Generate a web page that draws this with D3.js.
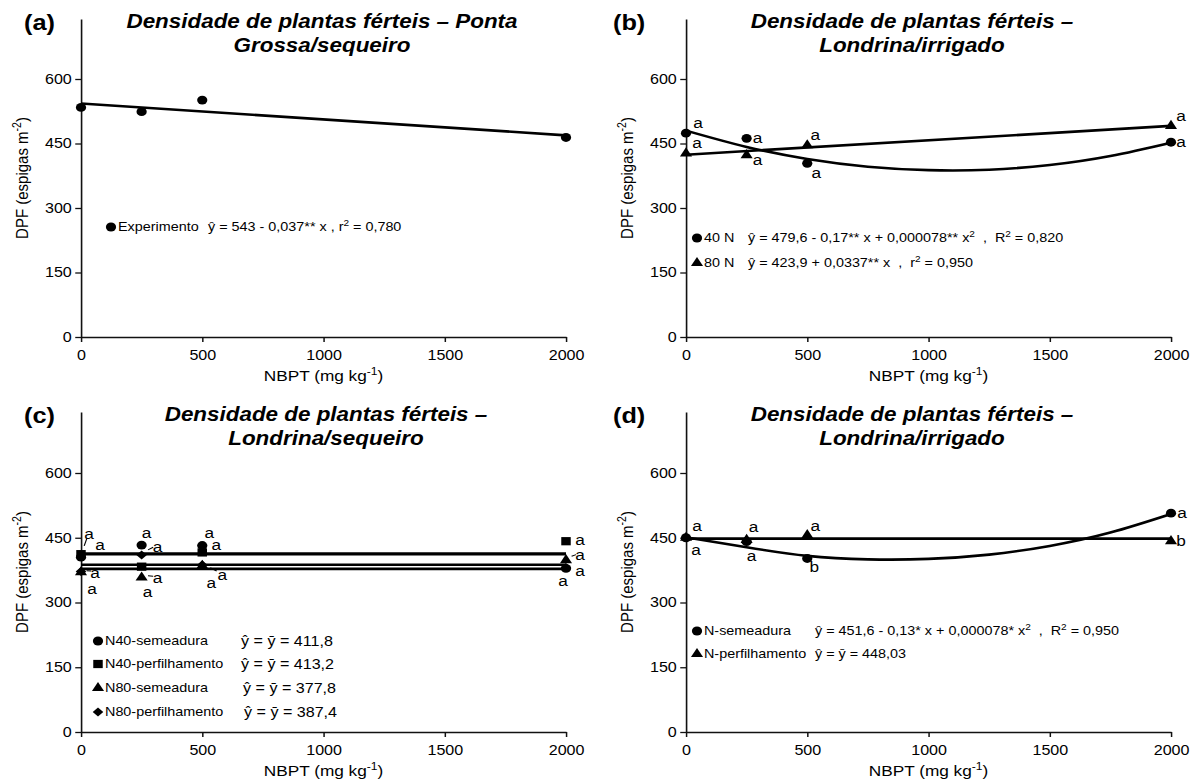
<!DOCTYPE html>
<html>
<head>
<meta charset="utf-8">
<script src="https://cdn.jsdelivr.net/npm/d3@7"></script>
<style>
  body { margin: 0; background: #fff; }
  svg { display: block; }
  text { font-family: "Liberation Sans", Arial, sans-serif; fill: #000; white-space: pre; }
</style>
</head>
<body>
<div id="chart"></div>
<script>
// Data
const doses = [0, 250, 500, 2000];
const fitX = [0, 250, 500, 750, 1000, 1250, 1500, 1750, 2000];
const lineX = [0, 2000];
const xTicks = [0, 500, 1000, 1500, 2000];
const yTicks = [0, 150, 300, 450, 600];

// (a) Ponta Grossa/sequeiro
const aExperimento = [534, 524, 551, 464];
const aExperimentoFit = [543, 469];

// (b) Londrina/irrigado
const b40N = [474, 462, 404, 453];
const b40NFit = [480, 442, 414, 396, 388, 389, 400, 421, 452];
const b40NLetters = ["a", "a", "a", "a"];
const b80N = [427, 423, 446, 491];
const b80NFit = [424, 491];
const b80NLetters = ["a", "a", "a", "a"];

// (c) Londrina/sequeiro
const cN40Sem = [405, 433, 432, 379];
const cN40Perf = [412, 383, 416, 442];
const cN80Sem = [370, 358, 385, 398];
const cN80Perf = [372, 410, 387, 381];
const cMeans = [411.8, 413.2, 377.8, 387.4];
const cLetters = ["a", "a", "a", "a"];

// (d) Londrina/irrigado
const dNSem = [450, 441, 402, 507];
const dNSemFit = [451, 428, 408, 400, 401, 411, 431, 462, 505];
const dNSemLetters = ["a", "a", "b", "a"];
const dNPerf = [450, 445, 456, 442];
const dNPerfFit = [448.03, 448.03];
const dNPerfLetters = ["a", "a", "a", "b"];

// Dimensions (the original figure is a bit stretched sideways)
const W = 1191, H = 783;
const SX = 1.15;
const fx = (v) => v / SX;
const SANS = '"Liberation Sans", Arial, sans-serif';
const SERIF = '"Liberation Serif", "Times New Roman", serif';

// letter offsets, px [dx, dy, leader]
const b40NPlace = [[12, -10], [11, 0], [9, 10], [10, 0]];
const b80NPlace = [[11, -10], [11, 5], [8, -10], [10, -9]];
const cN40SemPlace = [[8, -23, 1], [5, -12], [7, -12], [-3, 13]];
const cN40PerfPlace = [[19, -9], [6, 26], [14, -7], [14, -1]];
const cN80SemPlace = [[14, 1, 1], [16, 1, 1], [20, 10, 1], [14, -5, 1]];
const cN80PerfPlace = [[11, 18], [16, -8, 1], [9, 19], [14, 4]];
const dNSemPlace = [[10, 13], [5, 15], [7, 9], [11, 0]];
const dNPerfPlace = [[11, -11], [7, -12], [8, -9], [10, 0]];

const sym = {
  circle: { type: d3.symbolCircle, size: 62, rot: 0 },
  square: { type: d3.symbolSquare, size: 68, rot: 0 },
  triangle: { type: d3.symbolTriangle, size: 48, rot: 0 },
  diamond: { type: d3.symbolSquare, size: 42, rot: 45 }
};

const panels = [
  {
    tag: "(a)", tagX: 24, row: 0, left: 81, right: 566, base: 337, y600: 79, top: 19,
    title: ["Densidade de plantas férteis – Ponta", "Grossa/sequeiro"], titleX: 322,
    series: [
      { values: aExperimento, shape: "circle", fitX: lineX, fit: aExperimentoFit }
    ],
    legend: { x: 111, eqX: 208, ys: [227], serif: false,
      rows: [["circle", "Experimento", "ŷ = 543 - 0,037** x , r{2} = 0,780"]] }
  },
  {
    tag: "(b)", tagX: 613, row: 0, left: 686, right: 1171, base: 337, y600: 79, top: 19,
    title: ["Densidade de plantas férteis –", "Londrina/irrigado"], titleX: 912,
    series: [
      { values: b40N, shape: "circle", fitX: fitX, fit: b40NFit, curve: true, letters: b40NLetters, place: b40NPlace },
      { values: b80N, shape: "triangle", fitX: lineX, fit: b80NFit, letters: b80NLetters, place: b80NPlace }
    ],
    legend: { x: 697, eqX: 748, ys: [238, 263], serif: false,
      rows: [["circle", "40 N", "ŷ = 479,6 - 0,17** x + 0,000078** x{2}  ,  R{2} = 0,820"],
             ["triangle", "80 N", "ŷ = 423,9 + 0,0337** x  ,  r{2} = 0,950"]] }
  },
  {
    tag: "(c)", tagX: 24, row: 1, left: 81, right: 566, base: 732, y600: 473, top: 412,
    title: ["Densidade de plantas férteis –", "Londrina/sequeiro"], titleX: 326,
    series: [
      { values: cN40Sem, shape: "circle", fitX: lineX, fit: [cMeans[0], cMeans[0]], letters: cLetters, place: cN40SemPlace, serif: true },
      { values: cN40Perf, shape: "square", fitX: lineX, fit: [cMeans[1], cMeans[1]], letters: cLetters, place: cN40PerfPlace, serif: true },
      { values: cN80Sem, shape: "triangle", fitX: lineX, fit: [cMeans[2], cMeans[2]], letters: cLetters, place: cN80SemPlace, serif: true },
      { values: cN80Perf, shape: "diamond", fitX: lineX, fit: [cMeans[3], cMeans[3]], letters: cLetters, place: cN80PerfPlace, serif: true }
    ],
    legend: { x: 98, eqX: 241, ys: [641, 664, 688, 712], serif: true, eqShift: [0, 0, 2, 3],
      rows: [["circle", "N40-semeadura", "ŷ = ȳ = 411,8"],
             ["square", "N40-perfilhamento", "ŷ = ȳ = 413,2"],
             ["triangle", "N80-semeadura", "ŷ = ȳ = 377,8"],
             ["diamond", "N80-perfilhamento", "ŷ = ȳ = 387,4"]] }
  },
  {
    tag: "(d)", tagX: 613, row: 1, left: 686, right: 1171, base: 732, y600: 473, top: 412,
    title: ["Densidade de plantas férteis –", "Londrina/irrigado"], titleX: 912,
    series: [
      { values: dNPerf, shape: "triangle", fitX: lineX, fit: dNPerfFit, letters: dNPerfLetters, place: dNPerfPlace },
      { values: dNSem, shape: "circle", fitX: fitX, fit: dNSemFit, curve: true, letters: dNSemLetters, place: dNSemPlace }
    ],
    legend: { x: 697, eqX: 815, ys: [631, 654], serif: false,
      rows: [["circle", "N-semeadura", "ŷ = 451,6 - 0,13* x + 0,000078* x{2}  ,  R{2} = 0,950"],
             ["triangle", "N-perfilhamento", "ŷ = ȳ = 448,03"]] }
  }
];

// Draw Image
const svg = d3
  .select("#chart")
  .append("svg")
  .attr("width", W)
  .attr("height", H)
  .attr("viewBox", `0 0 ${W / SX} ${H}`)
  .attr("preserveAspectRatio", "none");

// text with {superscript} parts
function rich(textSel, str, size) {
  let back = 0;
  str.split(/(\{[^}]*\})/).filter((s) => s).forEach((s) => {
    if (s.startsWith("{")) {
      textSel.append("tspan").attr("dy", -size * 0.42).attr("font-size", size * 0.7).text(s.slice(1, -1));
      back = size * 0.42;
    } else {
      const t = textSel.append("tspan").text(s);
      if (back) t.attr("dy", back);
      back = 0;
    }
  });
}

function marker(g, shape, cx, cy) {
  const s = sym[shape];
  g.append("path")
    .attr("d", d3.symbol().type(s.type).size(s.size)())
    .attr("transform", `translate(${cx},${cy}) rotate(${s.rot})`)
    .attr("fill", "#000");
}

panels.forEach((p) => {
  const g = svg.append("g");
  const dy = p.row * 393;
  const yMax = (600 * (p.base - p.top)) / (p.base - p.y600);

  // Scales
  const x = d3.scaleLinear().domain([0, 2000]).range([fx(p.left), fx(p.right)]);
  const y = d3.scaleLinear().domain([0, yMax]).range([p.base, p.top]);

  // Axes
  const xAxis = g.append("g")
    .attr("transform", `translate(0, ${p.base})`)
    .call(d3.axisBottom(x).tickValues(xTicks).tickFormat(d3.format("d"))
      .tickSize(5).tickPadding(8).tickSizeOuter(0));
  const yAxis = g.append("g")
    .attr("transform", `translate(${x(0)}, 0)`)
    .call(d3.axisLeft(y).tickValues(yTicks).tickFormat(d3.format("d"))
      .tickSize(5).tickPadding(3).tickSizeOuter(0));
  [xAxis, yAxis].forEach((a) => {
    a.attr("font-family", SANS).attr("font-size", 14);
    a.select(".domain").attr("stroke", "#111").attr("stroke-width", 1.4);
    a.selectAll(".tick line").attr("stroke", "#111").attr("stroke-width", 1.3);
    a.selectAll(".tick text").attr("fill", "#000");
  });

  // Axis titles
  const xt = g.append("text")
    .attr("x", (x(0) + x(2000)) / 2)
    .attr("y", p.base + 44)
    .attr("text-anchor", "middle")
    .attr("font-size", 15);
  rich(xt, "NBPT (mg kg{-1})", 15);

  const yt = g.append("text")
    .attr("transform", `translate(${fx(p.left - 53)}, ${(p.base + p.top) / 2}) rotate(-90)`)
    .attr("text-anchor", "middle")
    .attr("font-size", 15);
  rich(yt, "DPF (espigas m{-2})", 15);

  // Tag and title
  g.append("text")
    .attr("x", fx(p.tagX))
    .attr("y", 30 + dy)
    .attr("font-size", 22)
    .attr("font-weight", "bold")
    .text(p.tag);

  p.title.forEach((t, i) => {
    g.append("text")
      .attr("x", fx(p.titleX))
      .attr("y", 28 + dy + i * 24)
      .attr("text-anchor", "middle")
      .attr("font-size", 19.5)
      .attr("font-weight", "bold")
      .attr("font-style", "italic")
      .text(t);
  });

  // Fitted lines
  p.series.forEach((s) => {
    const line = d3.line()
      .x((d, i) => x(s.fitX[i]))
      .y((d) => y(d))
      .curve(s.curve ? d3.curveNatural : d3.curveLinear);
    g.append("path")
      .attr("d", line(s.fit))
      .attr("fill", "none")
      .attr("stroke", "#000")
      .attr("stroke-width", 2.6);
  });

  // Points
  p.series.forEach((s) => {
    s.values.forEach((v, i) => marker(g, s.shape, x(doses[i]), y(v)));
  });

  // Letters
  p.series.forEach((s) => {
    if (!s.letters) return;
    s.values.forEach((v, i) => {
      const [ox, oy, leader] = s.place[i];
      const lx = x(doses[i]) + fx(ox);
      const ly = y(v) + oy;
      if (leader) {
        g.append("line")
          .attr("x1", x(doses[i]) + fx(ox * 0.4))
          .attr("y1", y(v) + oy * 0.4 - 2)
          .attr("x2", x(doses[i]) + fx(ox * 0.72))
          .attr("y2", y(v) + oy * 0.72 - 2)
          .attr("stroke", "#000")
          .attr("stroke-width", 1);
      }
      g.append("text")
        .attr("x", lx)
        .attr("y", ly)
        .attr("dy", "0.3em")
        .attr("text-anchor", "middle")
        .attr("font-family", s.serif ? SERIF : SANS)
        .attr("font-size", s.serif ? 15 : 15)
        .text(s.letters[i]);
    });
  });

  // Legend
  const L = p.legend;
  L.rows.forEach((r, i) => {
    const ly = L.ys[i];
    marker(g, r[0], fx(L.x), ly);
    g.append("text")
      .attr("x", fx(L.x + 7))
      .attr("y", ly)
      .attr("dy", "0.36em")
      .attr("font-size", 12.5)
      .text(r[1]);
    const eq = g.append("text")
      .attr("x", fx(L.eqX + (L.eqShift ? L.eqShift[i] : 0)))
      .attr("y", ly)
      .attr("dy", "0.36em")
      .attr("font-family", L.serif ? SERIF : SANS)
      .attr("font-size", L.serif ? 14 : 12.5);
    rich(eq, r[2], L.serif ? 14 : 12.5);
  });
});
</script>
</body>
</html>
